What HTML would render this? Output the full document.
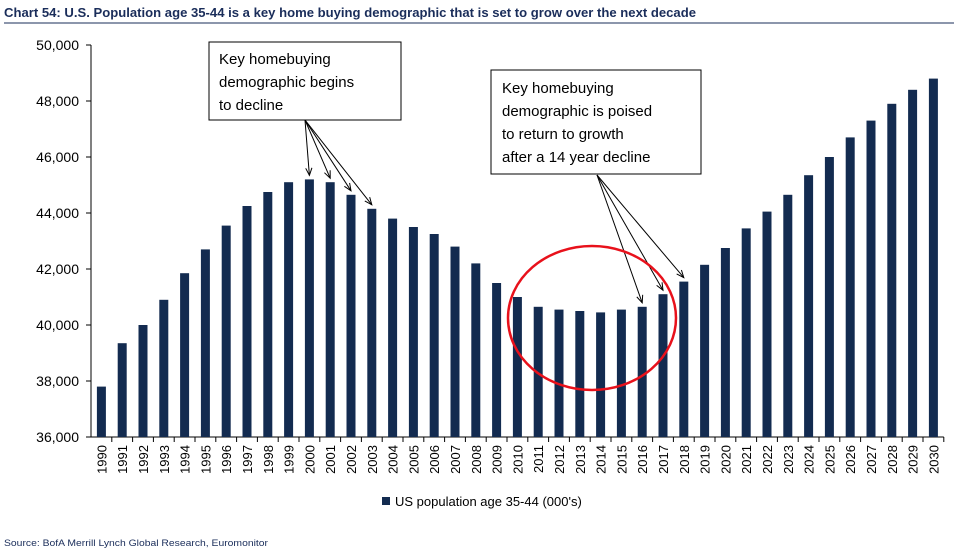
<!DOCTYPE html>
<html><head><meta charset="utf-8"><style>
body{margin:0;background:#fff;width:954px;height:553px;overflow:hidden;font-family:"Liberation Sans",sans-serif}
svg{position:absolute;left:0;top:0}
</style></head><body>
<svg id="chart" width="954" height="553">
<text x="4" y="17" font-size="13" font-weight="bold" fill="#1a2d5a" textLength="692" lengthAdjust="spacingAndGlyphs">Chart 54: U.S. Population age 35-44 is a key home buying demographic that is set to grow over the next decade</text>
<line x1="4" y1="23" x2="954" y2="23" stroke="#1a2d5a" stroke-width="1"/>
<g id="axes"></g>
<g id="bars"></g>
<g id="xlabels"></g>
<rect x="209" y="42" width="192" height="78" fill="#fff" stroke="#000"/>
<text font-size="15" fill="#000"><tspan x="219" y="64">Key homebuying</tspan><tspan x="219" y="87">demographic begins</tspan><tspan x="219" y="110">to decline</tspan></text>
<rect x="491" y="70" width="210" height="104" fill="#fff" stroke="#000"/>
<text font-size="15" fill="#000"><tspan x="502" y="93">Key homebuying</tspan><tspan x="502" y="116">demographic is poised</tspan><tspan x="502" y="139">to return to growth</tspan><tspan x="502" y="162">after a 14 year decline</tspan></text>
<g id="arrows" stroke="#000" stroke-width="1" fill="none"></g>
<ellipse cx="592" cy="318" rx="84" ry="72" fill="none" stroke="#e8111b" stroke-width="2.5"/>
<rect x="382" y="497" width="8" height="8" fill="#132b50"/>
<text x="395" y="506" font-size="13" fill="#000">US population age 35-44 (000's)</text>
<text x="4" y="546" font-size="9.5" fill="#1a2d5a" textLength="264" lengthAdjust="spacingAndGlyphs">Source: BofA Merrill Lynch Global Research, Euromonitor</text>
</svg>
<script>
const years=[1990,1991,1992,1993,1994,1995,1996,1997,1998,1999,2000,2001,2002,2003,2004,2005,2006,2007,2008,2009,2010,2011,2012,2013,2014,2015,2016,2017,2018,2019,2020,2021,2022,2023,2024,2025,2026,2027,2028,2029,2030];
const population=[37800,39350,40000,40900,41850,42700,43550,44250,44750,45100,45200,45100,44650,44150,43800,43500,43250,42800,42200,41500,41000,40650,40550,40500,40450,40550,40650,41100,41550,42150,42750,43450,44050,44650,45350,46000,46700,47300,47900,48400,48800];
const yTicks=[36000,38000,40000,42000,44000,46000,48000,50000];
const NS='http://www.w3.org/2000/svg';
const x0=91,bw=20.8,yMin=36000,yMax=50000,yTop=45,yBot=437;
function yS(v){return yBot-(v-yMin)/(yMax-yMin)*(yBot-yTop);}
function xS(i){return x0+bw*(i+0.5);}
function mk(t,a,p){const e=document.createElementNS(NS,t);for(const k in a)e.setAttribute(k,a[k]);p.appendChild(e);return e;}
const axes=document.getElementById('axes');
let l=mk('line',{x1:x0,y1:yTop,x2:x0,y2:yBot,stroke:'#000'},axes);


l=mk('line',{x1:x0,y1:yBot,x2:x0+bw*years.length,y2:yBot,stroke:'#000'},axes);


yTicks.forEach(v=>{
  mk('line',{x1:x0-5,y1:yS(v),x2:x0,y2:yS(v),stroke:'#000'},axes);
  const t=mk('text',{x:x0-12,y:yS(v)+5,'font-size':14,'text-anchor':'end',fill:'#000'},axes);
  t.textContent=v.toLocaleString('en-US');
  
  
});
const bars=document.getElementById('bars'),xl=document.getElementById('xlabels');
years.forEach((y,i)=>{
  mk('line',{x1:x0+bw*(i+1),y1:yBot,x2:x0+bw*(i+1),y2:yBot+5,stroke:'#000'},axes);
  const r=mk('rect',{x:xS(i)-4.5,y:yS(population[i]),width:9,height:yBot-yS(population[i]),fill:'#132b50'},bars);
  
  
  const t=mk('text',{x:0,y:0,'font-size':13,'text-anchor':'end',fill:'#000',transform:`translate(${xS(i)+5},${yBot+8}) rotate(-90)`},xl);
  t.textContent=y;
  
  
});
const ar=document.getElementById('arrows');
function arrow(x1,y1,i){const x2=xS(i),y2=yS(population[i])-4;mk('line',{x1,y1,x2,y2},ar);
 const a=Math.atan2(y2-y1,x2-x1),s=8;
 mk('path',{d:`M${x2-s*Math.cos(a-0.4)},${y2-s*Math.sin(a-0.4)} L${x2},${y2} L${x2-s*Math.cos(a+0.4)},${y2-s*Math.sin(a+0.4)}`},ar);}
[10,11,12,13].forEach(i=>arrow(305,120,i));
[26,27,28].forEach(i=>arrow(597,175,i));
</script>
</body></html>
